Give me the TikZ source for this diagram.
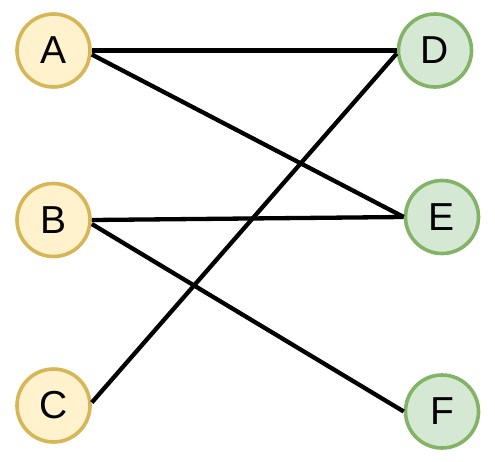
\documentclass[tikz,border=0pt]{standalone}
\usepackage{fontspec}
\setmainfont{Liberation Sans}
\definecolor{yfill}{HTML}{FFF2CC}
\definecolor{ystroke}{HTML}{D6B656}
\definecolor{gfill}{HTML}{D5E8D4}
\definecolor{gstroke}{HTML}{82B366}
\begin{document}
\begin{tikzpicture}[x=1pt,y=-1pt,
  vtx/.style={circle,minimum size=73pt,inner sep=0pt,line width=3.6pt,font=\fontsize{39}{39}\selectfont},
  left/.style={vtx,draw=ystroke,fill=yfill},
  right/.style={vtx,draw=gstroke,fill=gfill},
  edge/.style={line width=4.3pt,black}]
\useasboundingbox (0,0) rectangle (495,461);
\node[left] (A) at (53.5,50.5) {A};
\node[left] (B) at (53.5,220) {B};
\node[left] (C) at (53.5,405.5) {C};
\node[right] (D) at (435,50.5) {D};
\node[right] (E) at (442,217) {E};
\node[right] (F) at (442,411.5) {F};
\draw[edge] (A.east) -- (D.west);
\draw[edge] ([yshift=-4pt]A.east) -- (E.west);
\draw[edge] (B.east) -- (E.west);
\draw[edge] ([yshift=-4pt]B.east) -- (F.west);
\draw[edge] ([yshift=3pt]C.east) -- ([yshift=-3pt]D.west);
\end{tikzpicture}
\end{document}
